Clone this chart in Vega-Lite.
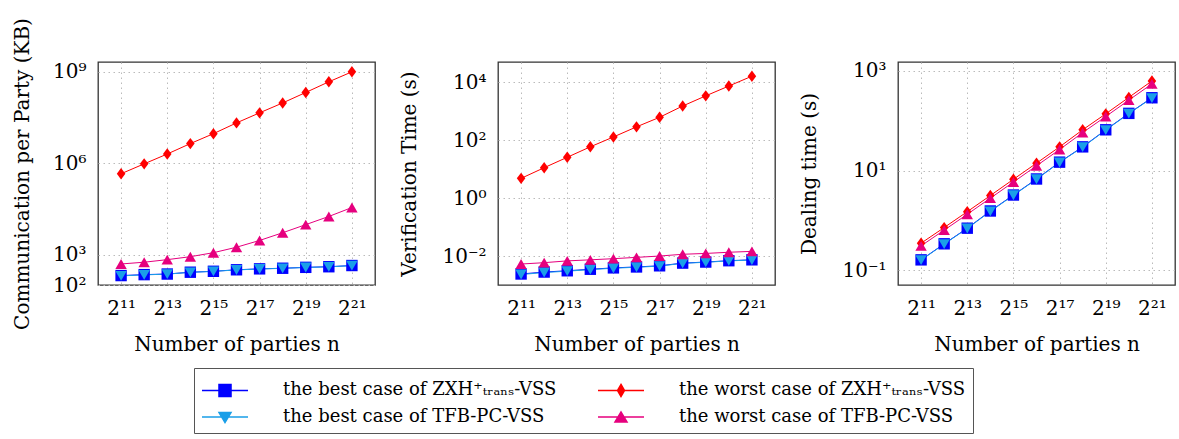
{
  "$schema": "https://vega.github.io/schema/vega-lite/v6.json",
  "padding": {"left": 11, "top": 16, "right": 0, "bottom": 0},
  "bounds": "flush",
  "spacing": 123,
  "config": {
    "font": "DejaVu Serif",
    "view": {"stroke": "#333", "strokeWidth": 1.3},
    "axis": {
      "labelFont": "DejaVu Serif", "titleFont": "DejaVu Serif",
      "labelFontSize": 20, "titleFontSize": 20, "titleFontWeight": "normal",
      "labelColor": "#000", "titleColor": "#000",
      "domain": false, "grid": true, "gridColor": "#bbbbbb", "gridDash": [1.5, 3.5], "gridWidth": 1,
      "ticks": false, "labelOverlap": false, "labelFlush": false
    },
    "legend": {
      "labelFont": "DejaVu Serif", "labelFontSize": 18, "labelColor": "#000", "labelLimit": 500
    },
    "point": {"filled": true, "size": 130, "opacity": 1}
  },
  "data": {"values": [
    {"panel":1,"series":"the best case of ZXH⁺ₜᵣₐₙₛ-VSS","n":2048,"value":204},
    {"panel":1,"series":"the best case of ZXH⁺ₜᵣₐₙₛ-VSS","n":4096,"value":219},
    {"panel":1,"series":"the best case of ZXH⁺ₜᵣₐₙₛ-VSS","n":8192,"value":229},
    {"panel":1,"series":"the best case of ZXH⁺ₜᵣₐₙₛ-VSS","n":16384,"value":263},
    {"panel":1,"series":"the best case of ZXH⁺ₜᵣₐₙₛ-VSS","n":32768,"value":282},
    {"panel":1,"series":"the best case of ZXH⁺ₜᵣₐₙₛ-VSS","n":65536,"value":316},
    {"panel":1,"series":"the best case of ZXH⁺ₜᵣₐₙₛ-VSS","n":131072,"value":339},
    {"panel":1,"series":"the best case of ZXH⁺ₜᵣₐₙₛ-VSS","n":262144,"value":355},
    {"panel":1,"series":"the best case of ZXH⁺ₜᵣₐₙₛ-VSS","n":524288,"value":380},
    {"panel":1,"series":"the best case of ZXH⁺ₜᵣₐₙₛ-VSS","n":1048576,"value":398},
    {"panel":1,"series":"the best case of ZXH⁺ₜᵣₐₙₛ-VSS","n":2097152,"value":436},
    {"panel":1,"series":"the best case of TFB-PC-VSS","n":2048,"value":200},
    {"panel":1,"series":"the best case of TFB-PC-VSS","n":4096,"value":215},
    {"panel":1,"series":"the best case of TFB-PC-VSS","n":8192,"value":228},
    {"panel":1,"series":"the best case of TFB-PC-VSS","n":16384,"value":260},
    {"panel":1,"series":"the best case of TFB-PC-VSS","n":32768,"value":280},
    {"panel":1,"series":"the best case of TFB-PC-VSS","n":65536,"value":312},
    {"panel":1,"series":"the best case of TFB-PC-VSS","n":131072,"value":336},
    {"panel":1,"series":"the best case of TFB-PC-VSS","n":262144,"value":352},
    {"panel":1,"series":"the best case of TFB-PC-VSS","n":524288,"value":376},
    {"panel":1,"series":"the best case of TFB-PC-VSS","n":1048576,"value":395},
    {"panel":1,"series":"the best case of TFB-PC-VSS","n":2097152,"value":432},
    {"panel":1,"series":"the worst case of ZXH⁺ₜᵣₐₙₛ-VSS","n":2048,"value":450000},
    {"panel":1,"series":"the worst case of ZXH⁺ₜᵣₐₙₛ-VSS","n":4096,"value":950000},
    {"panel":1,"series":"the worst case of ZXH⁺ₜᵣₐₙₛ-VSS","n":8192,"value":2000000},
    {"panel":1,"series":"the worst case of ZXH⁺ₜᵣₐₙₛ-VSS","n":16384,"value":4400000},
    {"panel":1,"series":"the worst case of ZXH⁺ₜᵣₐₙₛ-VSS","n":32768,"value":9300000},
    {"panel":1,"series":"the worst case of ZXH⁺ₜᵣₐₙₛ-VSS","n":65536,"value":21000000},
    {"panel":1,"series":"the worst case of ZXH⁺ₜᵣₐₙₛ-VSS","n":131072,"value":45000000},
    {"panel":1,"series":"the worst case of ZXH⁺ₜᵣₐₙₛ-VSS","n":262144,"value":95000000},
    {"panel":1,"series":"the worst case of ZXH⁺ₜᵣₐₙₛ-VSS","n":524288,"value":210000000},
    {"panel":1,"series":"the worst case of ZXH⁺ₜᵣₐₙₛ-VSS","n":1048576,"value":470000000},
    {"panel":1,"series":"the worst case of ZXH⁺ₜᵣₐₙₛ-VSS","n":2097152,"value":1000000000},
    {"panel":1,"series":"the worst case of TFB-PC-VSS","n":2048,"value":490},
    {"panel":1,"series":"the worst case of TFB-PC-VSS","n":4096,"value":560},
    {"panel":1,"series":"the worst case of TFB-PC-VSS","n":8192,"value":680},
    {"panel":1,"series":"the worst case of TFB-PC-VSS","n":16384,"value":850},
    {"panel":1,"series":"the worst case of TFB-PC-VSS","n":32768,"value":1150},
    {"panel":1,"series":"the worst case of TFB-PC-VSS","n":65536,"value":1740},
    {"panel":1,"series":"the worst case of TFB-PC-VSS","n":131072,"value":2900},
    {"panel":1,"series":"the worst case of TFB-PC-VSS","n":262144,"value":5200},
    {"panel":1,"series":"the worst case of TFB-PC-VSS","n":524288,"value":9600},
    {"panel":1,"series":"the worst case of TFB-PC-VSS","n":1048576,"value":17800},
    {"panel":1,"series":"the worst case of TFB-PC-VSS","n":2097152,"value":35000},

    {"panel":2,"series":"the best case of ZXH⁺ₜᵣₐₙₛ-VSS","n":2048,"value":0.0024},
    {"panel":2,"series":"the best case of ZXH⁺ₜᵣₐₙₛ-VSS","n":4096,"value":0.0028},
    {"panel":2,"series":"the best case of ZXH⁺ₜᵣₐₙₛ-VSS","n":8192,"value":0.0031},
    {"panel":2,"series":"the best case of ZXH⁺ₜᵣₐₙₛ-VSS","n":16384,"value":0.0035},
    {"panel":2,"series":"the best case of ZXH⁺ₜᵣₐₙₛ-VSS","n":32768,"value":0.0039},
    {"panel":2,"series":"the best case of ZXH⁺ₜᵣₐₙₛ-VSS","n":65536,"value":0.0042},
    {"panel":2,"series":"the best case of ZXH⁺ₜᵣₐₙₛ-VSS","n":131072,"value":0.0046},
    {"panel":2,"series":"the best case of ZXH⁺ₜᵣₐₙₛ-VSS","n":262144,"value":0.0057},
    {"panel":2,"series":"the best case of ZXH⁺ₜᵣₐₙₛ-VSS","n":524288,"value":0.0062},
    {"panel":2,"series":"the best case of ZXH⁺ₜᵣₐₙₛ-VSS","n":1048576,"value":0.0069},
    {"panel":2,"series":"the best case of ZXH⁺ₜᵣₐₙₛ-VSS","n":2097152,"value":0.0074},
    {"panel":2,"series":"the best case of TFB-PC-VSS","n":2048,"value":0.0023},
    {"panel":2,"series":"the best case of TFB-PC-VSS","n":4096,"value":0.0027},
    {"panel":2,"series":"the best case of TFB-PC-VSS","n":8192,"value":0.0030},
    {"panel":2,"series":"the best case of TFB-PC-VSS","n":16384,"value":0.0034},
    {"panel":2,"series":"the best case of TFB-PC-VSS","n":32768,"value":0.0038},
    {"panel":2,"series":"the best case of TFB-PC-VSS","n":65536,"value":0.0041},
    {"panel":2,"series":"the best case of TFB-PC-VSS","n":131072,"value":0.0045},
    {"panel":2,"series":"the best case of TFB-PC-VSS","n":262144,"value":0.0056},
    {"panel":2,"series":"the best case of TFB-PC-VSS","n":524288,"value":0.0061},
    {"panel":2,"series":"the best case of TFB-PC-VSS","n":1048576,"value":0.0068},
    {"panel":2,"series":"the best case of TFB-PC-VSS","n":2097152,"value":0.0073},
    {"panel":2,"series":"the worst case of ZXH⁺ₜᵣₐₙₛ-VSS","n":2048,"value":4.8},
    {"panel":2,"series":"the worst case of ZXH⁺ₜᵣₐₙₛ-VSS","n":4096,"value":11.2},
    {"panel":2,"series":"the worst case of ZXH⁺ₜᵣₐₙₛ-VSS","n":8192,"value":25.7},
    {"panel":2,"series":"the worst case of ZXH⁺ₜᵣₐₙₛ-VSS","n":16384,"value":59},
    {"panel":2,"series":"the worst case of ZXH⁺ₜᵣₐₙₛ-VSS","n":32768,"value":129},
    {"panel":2,"series":"the worst case of ZXH⁺ₜᵣₐₙₛ-VSS","n":65536,"value":288},
    {"panel":2,"series":"the worst case of ZXH⁺ₜᵣₐₙₛ-VSS","n":131072,"value":617},
    {"panel":2,"series":"the worst case of ZXH⁺ₜᵣₐₙₛ-VSS","n":262144,"value":1510},
    {"panel":2,"series":"the worst case of ZXH⁺ₜᵣₐₙₛ-VSS","n":524288,"value":3390},
    {"panel":2,"series":"the worst case of ZXH⁺ₜᵣₐₙₛ-VSS","n":1048576,"value":7400},
    {"panel":2,"series":"the worst case of ZXH⁺ₜᵣₐₙₛ-VSS","n":2097152,"value":16200},
    {"panel":2,"series":"the worst case of TFB-PC-VSS","n":2048,"value":0.0053},
    {"panel":2,"series":"the worst case of TFB-PC-VSS","n":4096,"value":0.0059},
    {"panel":2,"series":"the worst case of TFB-PC-VSS","n":8192,"value":0.0068},
    {"panel":2,"series":"the worst case of TFB-PC-VSS","n":16384,"value":0.0074},
    {"panel":2,"series":"the worst case of TFB-PC-VSS","n":32768,"value":0.0081},
    {"panel":2,"series":"the worst case of TFB-PC-VSS","n":65536,"value":0.0090},
    {"panel":2,"series":"the worst case of TFB-PC-VSS","n":131072,"value":0.0100},
    {"panel":2,"series":"the worst case of TFB-PC-VSS","n":262144,"value":0.0115},
    {"panel":2,"series":"the worst case of TFB-PC-VSS","n":524288,"value":0.0123},
    {"panel":2,"series":"the worst case of TFB-PC-VSS","n":1048576,"value":0.0135},
    {"panel":2,"series":"the worst case of TFB-PC-VSS","n":2097152,"value":0.0145},

    {"panel":3,"series":"the best case of ZXH⁺ₜᵣₐₙₛ-VSS","n":2048,"value":0.162},
    {"panel":3,"series":"the best case of ZXH⁺ₜᵣₐₙₛ-VSS","n":4096,"value":0.34},
    {"panel":3,"series":"the best case of ZXH⁺ₜᵣₐₙₛ-VSS","n":8192,"value":0.70},
    {"panel":3,"series":"the best case of ZXH⁺ₜᵣₐₙₛ-VSS","n":16384,"value":1.55},
    {"panel":3,"series":"the best case of ZXH⁺ₜᵣₐₙₛ-VSS","n":32768,"value":3.24},
    {"panel":3,"series":"the best case of ZXH⁺ₜᵣₐₙₛ-VSS","n":65536,"value":6.8},
    {"panel":3,"series":"the best case of ZXH⁺ₜᵣₐₙₛ-VSS","n":131072,"value":14.8},
    {"panel":3,"series":"the best case of ZXH⁺ₜᵣₐₙₛ-VSS","n":262144,"value":30},
    {"panel":3,"series":"the best case of ZXH⁺ₜᵣₐₙₛ-VSS","n":524288,"value":66},
    {"panel":3,"series":"the best case of ZXH⁺ₜᵣₐₙₛ-VSS","n":1048576,"value":141},
    {"panel":3,"series":"the best case of ZXH⁺ₜᵣₐₙₛ-VSS","n":2097152,"value":290},
    {"panel":3,"series":"the best case of TFB-PC-VSS","n":2048,"value":0.160},
    {"panel":3,"series":"the best case of TFB-PC-VSS","n":4096,"value":0.335},
    {"panel":3,"series":"the best case of TFB-PC-VSS","n":8192,"value":0.69},
    {"panel":3,"series":"the best case of TFB-PC-VSS","n":16384,"value":1.52},
    {"panel":3,"series":"the best case of TFB-PC-VSS","n":32768,"value":3.2},
    {"panel":3,"series":"the best case of TFB-PC-VSS","n":65536,"value":6.7},
    {"panel":3,"series":"the best case of TFB-PC-VSS","n":131072,"value":14.6},
    {"panel":3,"series":"the best case of TFB-PC-VSS","n":262144,"value":29.6},
    {"panel":3,"series":"the best case of TFB-PC-VSS","n":524288,"value":65},
    {"panel":3,"series":"the best case of TFB-PC-VSS","n":1048576,"value":139},
    {"panel":3,"series":"the best case of TFB-PC-VSS","n":2097152,"value":286},
    {"panel":3,"series":"the worst case of ZXH⁺ₜᵣₐₙₛ-VSS","n":2048,"value":0.35},
    {"panel":3,"series":"the worst case of ZXH⁺ₜᵣₐₙₛ-VSS","n":4096,"value":0.72},
    {"panel":3,"series":"the worst case of ZXH⁺ₜᵣₐₙₛ-VSS","n":8192,"value":1.5},
    {"panel":3,"series":"the worst case of ZXH⁺ₜᵣₐₙₛ-VSS","n":16384,"value":3.16},
    {"panel":3,"series":"the worst case of ZXH⁺ₜᵣₐₙₛ-VSS","n":32768,"value":6.7},
    {"panel":3,"series":"the worst case of ZXH⁺ₜᵣₐₙₛ-VSS","n":65536,"value":14.1},
    {"panel":3,"series":"the worst case of ZXH⁺ₜᵣₐₙₛ-VSS","n":131072,"value":30},
    {"panel":3,"series":"the worst case of ZXH⁺ₜᵣₐₙₛ-VSS","n":262144,"value":66},
    {"panel":3,"series":"the worst case of ZXH⁺ₜᵣₐₙₛ-VSS","n":524288,"value":138},
    {"panel":3,"series":"the worst case of ZXH⁺ₜᵣₐₙₛ-VSS","n":1048576,"value":295},
    {"panel":3,"series":"the worst case of ZXH⁺ₜᵣₐₙₛ-VSS","n":2097152,"value":630},
    {"panel":3,"series":"the worst case of TFB-PC-VSS","n":2048,"value":0.31},
    {"panel":3,"series":"the worst case of TFB-PC-VSS","n":4096,"value":0.64},
    {"panel":3,"series":"the worst case of TFB-PC-VSS","n":8192,"value":1.33},
    {"panel":3,"series":"the worst case of TFB-PC-VSS","n":16384,"value":2.8},
    {"panel":3,"series":"the worst case of TFB-PC-VSS","n":32768,"value":5.9},
    {"panel":3,"series":"the worst case of TFB-PC-VSS","n":65536,"value":12.5},
    {"panel":3,"series":"the worst case of TFB-PC-VSS","n":131072,"value":26.5},
    {"panel":3,"series":"the worst case of TFB-PC-VSS","n":262144,"value":58},
    {"panel":3,"series":"the worst case of TFB-PC-VSS","n":524288,"value":122},
    {"panel":3,"series":"the worst case of TFB-PC-VSS","n":1048576,"value":260},
    {"panel":3,"series":"the worst case of TFB-PC-VSS","n":2097152,"value":550}
  ]},
  "hconcat": [
    {
      "width": 277, "height": 223,
      "transform": [{"filter": "datum.panel == 1"}],
      "encoding": {
        "x": {"field": "n", "type": "quantitative",
          "scale": {"type": "log", "base": 2, "domain": [1024, 4194304], "nice": false},
          "axis": {"values": [2048, 8192, 32768, 131072, 524288, 2097152], "title": "Number of parties n",
            "labelExpr": "['2¹⁰','2¹¹','2¹²','2¹³','2¹⁴','2¹⁵','2¹⁶','2¹⁷','2¹⁸','2¹⁹','2²⁰','2²¹','2²²'][round(log(datum.value)/LN2)-10]",
            "labelPadding": 13, "titlePadding": 16}},
        "y": {"field": "value", "type": "quantitative",
          "scale": {"type": "log", "domain": [100, 2100000000], "nice": false},
          "axis": {"values": [100, 1000, 1000000, 1000000000], "title": "Communication per Party (KB)",
            "labelExpr": "'10' + ['⁻²','⁻¹','⁰','¹','²','³','⁴','⁵','⁶','⁷','⁸','⁹'][round(log(datum.value)/LN10)+2]",
            "labelPadding": 12, "titlePadding": 20}},
        "color": {"field": "series", "type": "nominal",
          "scale": {"domain": ["the best case of ZXH⁺ₜᵣₐₙₛ-VSS", "the worst case of ZXH⁺ₜᵣₐₙₛ-VSS", "the best case of TFB-PC-VSS", "the worst case of TFB-PC-VSS"],
            "range": ["#0000ff", "#ff0000", "#1a9fe8", "#e6007e"]},
          "legend": {"orient": "none", "legendX": 96, "legendY": 306, "columns": 2, "direction": "horizontal", "title": null,
            "symbolSize": 784, "labelOffset": 52, "columnPadding": 38, "rowPadding": 2, "padding": 7,
            "strokeColor": "#555",
            "encoding": {"symbols": {
              "shape": {"value": {"expr": "datum.value == 'the best case of ZXH⁺ₜᵣₐₙₛ-VSS' ? 'M-1,0H2.286M0.213,-0.43H1.073V0.43H0.213Z' : datum.value == 'the worst case of ZXH⁺ₜᵣₐₙₛ-VSS' ? 'M-1,0H2.286M0.643,-0.43L0.893,0L0.643,0.43L0.393,0Z' : datum.value == 'the best case of TFB-PC-VSS' ? 'M-1,0H2.286M0.213,-0.33H1.073L0.643,0.4Z' : 'M-1,0H2.286M0.213,0.36H1.073L0.643,-0.36Z'"}},
              "stroke": {"value": {"expr": "scale('color', datum.value)"}},
              "fill": {"value": {"expr": "scale('color', datum.value)"}},
              "strokeWidth": {"value": 1.5},
              "size": {"value": 784},
              "opacity": {"value": 1}
            }}}
        }
      },
      "layer": [
        {"mark": {"type": "line", "strokeWidth": 1, "clip": true}},
        {"transform": [{"filter": {"field": "series", "equal": "the best case of ZXH⁺ₜᵣₐₙₛ-VSS"}}], "mark": {"type": "point", "shape": "square"}},
        {"transform": [{"filter": {"field": "series", "equal": "the best case of TFB-PC-VSS"}}], "mark": {"type": "point", "shape": "triangle-down"}},
        {"transform": [{"filter": {"field": "series", "equal": "the worst case of ZXH⁺ₜᵣₐₙₛ-VSS"}}], "mark": {"type": "point", "shape": "M0,-1L0.75,0L0,1L-0.75,0Z"}},
        {"transform": [{"filter": {"field": "series", "equal": "the worst case of TFB-PC-VSS"}}], "mark": {"type": "point", "shape": "triangle-up"}}
      ]
    },
    {
      "width": 277, "height": 223,
      "transform": [{"filter": "datum.panel == 2"}],
      "encoding": {
        "x": {"field": "n", "type": "quantitative",
          "scale": {"type": "log", "base": 2, "domain": [1024, 4194304], "nice": false},
          "axis": {"values": [2048, 8192, 32768, 131072, 524288, 2097152], "title": "Number of parties n",
            "labelExpr": "['2¹⁰','2¹¹','2¹²','2¹³','2¹⁴','2¹⁵','2¹⁶','2¹⁷','2¹⁸','2¹⁹','2²⁰','2²¹','2²²'][round(log(datum.value)/LN2)-10]",
            "labelPadding": 13, "titlePadding": 16}},
        "y": {"field": "value", "type": "quantitative",
          "scale": {"type": "log", "domain": [0.001, 50000], "nice": false},
          "axis": {"values": [0.01, 1, 100, 10000], "title": "Verification Time (s)",
            "labelExpr": "'10' + ['⁻²','⁻¹','⁰','¹','²','³','⁴','⁵','⁶','⁷','⁸','⁹'][round(log(datum.value)/LN10)+2]",
            "labelPadding": 12, "titlePadding": 22}},
        "color": {"field": "series", "type": "nominal"}
      },
      "layer": [
        {"mark": {"type": "line", "strokeWidth": 1, "clip": true}},
        {"transform": [{"filter": {"field": "series", "equal": "the best case of ZXH⁺ₜᵣₐₙₛ-VSS"}}], "mark": {"type": "point", "shape": "square"}},
        {"transform": [{"filter": {"field": "series", "equal": "the best case of TFB-PC-VSS"}}], "mark": {"type": "point", "shape": "triangle-down"}},
        {"transform": [{"filter": {"field": "series", "equal": "the worst case of ZXH⁺ₜᵣₐₙₛ-VSS"}}], "mark": {"type": "point", "shape": "M0,-1L0.75,0L0,1L-0.75,0Z"}},
        {"transform": [{"filter": {"field": "series", "equal": "the worst case of TFB-PC-VSS"}}], "mark": {"type": "point", "shape": "triangle-up"}}
      ]
    },
    {
      "width": 277, "height": 223,
      "transform": [{"filter": "datum.panel == 3"}],
      "encoding": {
        "x": {"field": "n", "type": "quantitative",
          "scale": {"type": "log", "base": 2, "domain": [1024, 4194304], "nice": false},
          "axis": {"values": [2048, 8192, 32768, 131072, 524288, 2097152], "title": "Number of parties n",
            "labelExpr": "['2¹⁰','2¹¹','2¹²','2¹³','2¹⁴','2¹⁵','2¹⁶','2¹⁷','2¹⁸','2¹⁹','2²⁰','2²¹','2²²'][round(log(datum.value)/LN2)-10]",
            "labelPadding": 13, "titlePadding": 16}},
        "y": {"field": "value", "type": "quantitative",
          "scale": {"type": "log", "domain": [0.0507, 1514], "nice": false},
          "axis": {"values": [0.1, 10, 1000], "title": "Dealing time (s)",
            "labelExpr": "'10' + ['⁻²','⁻¹','⁰','¹','²','³','⁴','⁵','⁶','⁷','⁸','⁹'][round(log(datum.value)/LN10)+2]",
            "labelPadding": 12, "titlePadding": 22}},
        "color": {"field": "series", "type": "nominal"}
      },
      "layer": [
        {"mark": {"type": "line", "strokeWidth": 1, "clip": true}},
        {"transform": [{"filter": {"field": "series", "equal": "the best case of ZXH⁺ₜᵣₐₙₛ-VSS"}}], "mark": {"type": "point", "shape": "square"}},
        {"transform": [{"filter": {"field": "series", "equal": "the best case of TFB-PC-VSS"}}], "mark": {"type": "point", "shape": "triangle-down"}},
        {"transform": [{"filter": {"field": "series", "equal": "the worst case of ZXH⁺ₜᵣₐₙₛ-VSS"}}], "mark": {"type": "point", "shape": "M0,-1L0.75,0L0,1L-0.75,0Z"}},
        {"transform": [{"filter": {"field": "series", "equal": "the worst case of TFB-PC-VSS"}}], "mark": {"type": "point", "shape": "triangle-up"}}
      ]
    }
  ]
}
